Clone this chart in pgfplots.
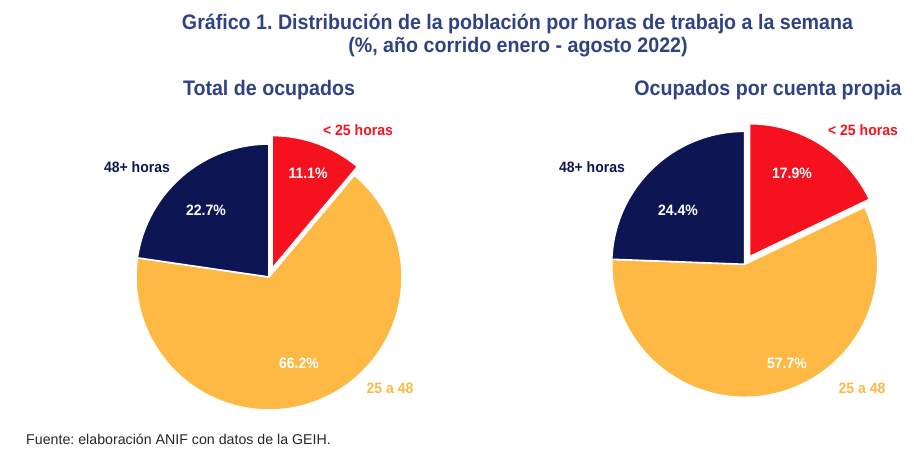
\documentclass[border=0pt]{standalone}
\usepackage{pgfplots}
\pgfplotsset{compat=1.18}
\usepackage{pgfplotstable}
\usepackage{fontspec}
\setmainfont{Liberation Sans}[FakeStretch=0.935]
\newfontfamily\footfont{Liberation Sans}
\definecolor{ttl}{RGB}{46,66,132}
\definecolor{navy}{RGB}{13,22,82}
\definecolor{rojo}{RGB}{245,18,30}
\definecolor{amar}{RGB}{253,185,68}
\frenchspacing

\pgfplotstableread{
grupo valor
menos25 11.1
de25a48 66.2
mas48 22.7
}\totaltab
\pgfplotstableread{
grupo valor
menos25 17.9
de25a48 57.7
mas48 24.4
}\propiatab

% #1 table, #2 cx, #3 cy, #4 radius (pt), #5 explode (pt)
\newcommand\piechart[5]{%
  \pgfplotstablegetelem{0}{valor}\of#1\let\vA\pgfplotsretval
  \pgfplotstablegetelem{1}{valor}\of#1\let\vB\pgfplotsretval
  \pgfmathsetmacro\aA{90}%
  \pgfmathsetmacro\aB{90-3.6*\vA}%
  \pgfmathsetmacro\aC{90-3.6*(\vA+\vB)}%
  \pgfmathsetmacro\aD{-270}%
  \pgfmathsetmacro\mA{(\aA+\aB)/2}%
  % 25 a 48
  \filldraw[fill=amar,draw=white,line width=1.6pt,line join=round]
    (axis cs:#2,#3) -- ++(\aB:#4) arc[start angle=\aB,end angle=\aC,radius=#4] -- cycle;
  % 48+
  \filldraw[fill=navy,draw=white,line width=1.6pt,line join=round]
    (axis cs:#2,#3) -- ++(\aC:#4) arc[start angle=\aC,end angle=\aD,radius=#4] -- cycle;
  % < 25 (exploded)
  \filldraw[fill=rojo,draw=white,line width=1.6pt,line join=round,shift={(\mA:#5)}]
    (axis cs:#2,#3) -- ++(\aA:#4) arc[start angle=\aA,end angle=\aB,radius=#4] -- cycle;
}

\begin{document}
\begin{tikzpicture}
\useasboundingbox (0,0) rectangle (914pt,455pt);
\begin{axis}[
  at={(0,0)}, anchor=south west,
  scale only axis, width=914pt, height=455pt,
  xmin=0, xmax=914, ymin=0, ymax=455,
  hide axis, clip=false,
]
\pgfplotsextra{\piechart{\totaltab}{269}{178}{133pt}{9pt}}
\pgfplotsextra{\piechart{\propiatab}{744.7}{190.7}{133pt}{9pt}}

% titles
\node[anchor=base,font=\bfseries\fontsize{21}{24}\selectfont,text=ttl] at (axis cs:517.5,425.5)
  {Gráfico 1. Distribución de la población por horas de trabajo a la semana};
\node[anchor=base,font=\bfseries\fontsize{21}{24}\selectfont,text=ttl] at (axis cs:518,402)
  {(\%, año corrido enero - agosto 2022)};
\node[anchor=base,font=\bfseries\fontsize{21}{24}\selectfont,text=ttl] at (axis cs:269,359)
  {Total de ocupados};
\node[anchor=base,font=\bfseries\fontsize{21}{24}\selectfont,text=ttl] at (axis cs:768,359)
  {Ocupados por cuenta propia};

% pie 1 labels
\node[font=\bfseries\fontsize{15}{18}\selectfont,text=rojo] at (axis cs:358,325) {< 25 horas};
\node[font=\bfseries\fontsize{15}{18}\selectfont,text=white] at (axis cs:308,282) {11.1\%};
\node[font=\bfseries\fontsize{15}{18}\selectfont,text=navy] at (axis cs:137,288) {48+ horas};
\node[font=\bfseries\fontsize{15}{18}\selectfont,text=white] at (axis cs:206,245) {22.7\%};
\node[font=\bfseries\fontsize{15}{18}\selectfont,text=white] at (axis cs:299,92) {66.2\%};
\node[font=\bfseries\fontsize{15}{18}\selectfont,text=amar] at (axis cs:390,67) {25 a 48};

% pie 2 labels
\node[font=\bfseries\fontsize{15}{18}\selectfont,text=rojo] at (axis cs:863,325) {< 25 horas};
\node[font=\bfseries\fontsize{15}{18}\selectfont,text=white] at (axis cs:792,282) {17.9\%};
\node[font=\bfseries\fontsize{15}{18}\selectfont,text=navy] at (axis cs:592,288) {48+ horas};
\node[font=\bfseries\fontsize{15}{18}\selectfont,text=white] at (axis cs:678,245) {24.4\%};
\node[font=\bfseries\fontsize{15}{18}\selectfont,text=white] at (axis cs:787,92) {57.7\%};
\node[font=\bfseries\fontsize{15}{18}\selectfont,text=amar] at (axis cs:862,67) {25 a 48};

% footer
\node[anchor=base west,font=\footfont\fontsize{14.2}{16}\selectfont,text=black!85] at (axis cs:22.7,10)
  {Fuente: elaboración ANIF con datos de la GEIH.};
\end{axis}
\end{tikzpicture}
\end{document}
